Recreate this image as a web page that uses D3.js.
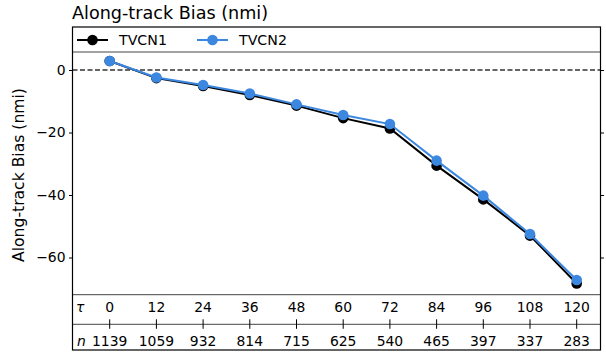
<!DOCTYPE html>
<html>
<head>
<meta charset="utf-8">
<script src="https://cdn.jsdelivr.net/npm/d3@7"></script>
<style>
  body { margin: 0; background: #fff; }
  svg { display: block; font-family: "DejaVu Sans", sans-serif; }
</style>
</head>
<body>
<div id="chart"></div>
<script>
// data
const taus = [0, 12, 24, 36, 48, 60, 72, 84, 96, 108, 120];
const counts = [1139, 1059, 932, 814, 715, 625, 540, 465, 397, 337, 283];
const tvcn1 = [2.9, -2.6, -5.1, -8.0, -11.4, -15.4, -18.7, -30.6, -41.4, -53.0, -68.3];
const tvcn2 = [2.9, -2.4, -4.8, -7.5, -11.0, -14.4, -17.3, -29.0, -40.2, -52.5, -67.2];
const yTicks = [0, -20, -40, -60];
const seriesNames = ["TVCN1", "TVCN2"];
const seriesColors = ["#000000", "#3c87e0"];

const width = 606,
  height = 357;

// box edges
const left = 72.5,
  right = 600.5,
  boxTop = 27,
  legendBottom = 52,
  plotBottom = 294.7,
  rowSplit = 324.3,
  boxBottom = 350;

const svg = d3
  .select("#chart")
  .append("svg")
  .attr("width", width)
  .attr("height", height);

const x = d3.scaleLinear().domain([0, 120]).range([109.7, 576.7]);
const y = d3.scaleLinear().domain([0, -60]).range([70, 257.5]);

// title
svg
  .append("text")
  .attr("x", 72)
  .attr("y", 18.5)
  .attr("font-size", "17.6px")
  .attr("fill", "#000")
  .text("Along-track Bias (nmi)");

// y label
svg
  .append("text")
  .attr("transform", `translate(23.5,175) rotate(-90)`)
  .attr("text-anchor", "middle")
  .attr("font-size", "15.6px")
  .text("Along-track Bias (nmi)");

// zero line
svg
  .append("line")
  .attr("x1", left)
  .attr("x2", right)
  .attr("y1", y(0))
  .attr("y2", y(0))
  .attr("stroke", "#333")
  .attr("stroke-width", 1.4)
  .attr("stroke-dasharray", "5,2.5");

// left axis
const yAxis = svg
  .append("g")
  .attr("transform", `translate(${left},0)`)
  .call(d3.axisLeft(y).tickValues(yTicks).tickSize(3.5).tickPadding(3.5));
yAxis.select(".domain").remove();
yAxis.selectAll("text").attr("font-size", "13.9px").attr("font-family", "DejaVu Sans").attr("fill", "#000");
yAxis.selectAll("line").attr("stroke", "#000");

// right axis, ticks only
const yAxisR = svg
  .append("g")
  .attr("transform", `translate(${right},0)`)
  .call(d3.axisRight(y).tickValues(yTicks).tickSize(3.5).tickFormat(""));
yAxisR.select(".domain").remove();
yAxisR.selectAll("line").attr("stroke", "#000");

// series
const line = d3
  .line()
  .x((d, i) => x(taus[i]))
  .y((d) => y(d));

[tvcn1, tvcn2].forEach((vals, k) => {
  const g = svg.append("g");
  g.append("path")
    .attr("d", line(vals))
    .attr("fill", "none")
    .attr("stroke", seriesColors[k])
    .attr("stroke-width", 2);
  g.selectAll("circle")
    .data(vals)
    .join("circle")
    .attr("cx", (d, i) => x(taus[i]))
    .attr("cy", (d) => y(d))
    .attr("r", 5.3)
    .attr("fill", seriesColors[k]);
});

// legend
const legendY = 40;
const legendX = [77, 197];
seriesNames.forEach((name, k) => {
  svg
    .append("line")
    .attr("x1", legendX[k])
    .attr("x2", legendX[k] + 31)
    .attr("y1", legendY)
    .attr("y2", legendY)
    .attr("stroke", seriesColors[k])
    .attr("stroke-width", 2);
  svg
    .append("circle")
    .attr("cx", legendX[k] + 15.5)
    .attr("cy", legendY)
    .attr("r", 5.3)
    .attr("fill", seriesColors[k]);
  svg
    .append("text")
    .attr("x", legendX[k] + 42)
    .attr("y", legendY + 5)
    .attr("font-size", "14.2px")
    .text(name);
});

// row separators
[legendBottom, plotBottom, rowSplit].forEach((yy) => {
  svg
    .append("line")
    .attr("x1", left)
    .attr("x2", right)
    .attr("y1", yy)
    .attr("y2", yy)
    .attr("stroke", "#444")
    .attr("stroke-width", 1);
});

// tau row
svg
  .append("text")
  .attr("x", 76)
  .attr("y", 311.7)
  .attr("font-size", "13.9px")
  .attr("font-style", "italic")
  .text("τ");
svg
  .append("g")
  .selectAll("text")
  .data(taus)
  .join("text")
  .attr("x", (d) => x(d))
  .attr("y", 311.7)
  .attr("text-anchor", "middle")
  .attr("font-size", "13.9px")
  .text((d) => d);

// ticks across the split line
svg
  .append("g")
  .selectAll("line")
  .data(taus)
  .join("line")
  .attr("x1", (d) => x(d))
  .attr("x2", (d) => x(d))
  .attr("y1", rowSplit - 5)
  .attr("y2", rowSplit + 4.5)
  .attr("stroke", "#000")
  .attr("stroke-width", 1);

// n row
svg
  .append("text")
  .attr("x", 77)
  .attr("y", 346)
  .attr("font-size", "13.9px")
  .attr("font-style", "italic")
  .text("n");
svg
  .append("g")
  .selectAll("text")
  .data(counts)
  .join("text")
  .attr("x", (d, i) => x(taus[i]))
  .attr("y", 346)
  .attr("text-anchor", "middle")
  .attr("font-size", "13.9px")
  .text((d) => d);

// outer frame
svg
  .append("rect")
  .attr("x", left)
  .attr("y", boxTop)
  .attr("width", right - left)
  .attr("height", boxBottom - boxTop)
  .attr("fill", "none")
  .attr("stroke", "#000")
  .attr("stroke-width", 1.2);
</script>
</body>
</html>
